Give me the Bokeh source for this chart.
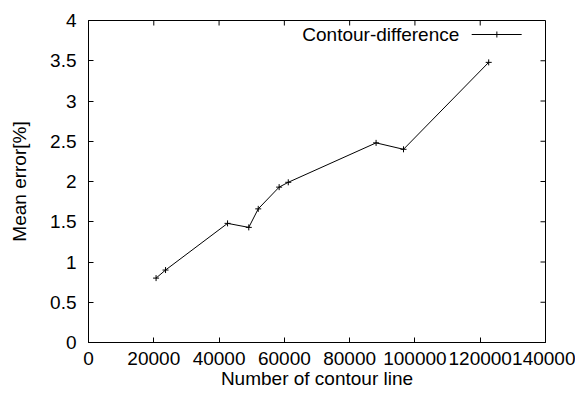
from bokeh.plotting import figure
from bokeh.models import Range1d, FixedTicker, Label
from bokeh.embed import file_html
from bokeh.resources import INLINE

# Data
contour_lines = [20700, 23600, 42600, 49100, 52000, 58400, 61200, 88100, 96500, 122600]
mean_error = [0.80, 0.90, 1.48, 1.43, 1.66, 1.93, 1.99, 2.48, 2.40, 3.48]
series_name = "Contour-difference"

x_ticks = [0, 20000, 40000, 60000, 80000, 100000, 120000, 140000]
y_ticks = [0, 0.5, 1, 1.5, 2, 2.5, 3, 3.5, 4]
y_tick_labels = ["0", "0.5", "1", "1.5", "2", "2.5", "3", "3.5", "4"]

FONT = "Liberation Sans"
FS = "19px"
X0, X1, Y0, Y1 = 0, 140000, 0, 4
FW, FH = 457, 322
TICK_PX = 5

p = figure(frame_width=FW, frame_height=FH, output_backend="svg", toolbar_location=None,
           x_range=Range1d(X0, X1), y_range=Range1d(Y0, Y1),
           min_border_left=88, min_border_right=30, min_border_top=20, min_border_bottom=20)
p.outline_line_color = "black"
p.outline_line_width = 1
p.xgrid.visible = False
p.ygrid.visible = False
p.background_fill_color = "white"
p.border_fill_color = "white"

for ax in (p.xaxis[0], p.yaxis[0]):
    ax.major_tick_in = TICK_PX
    ax.major_tick_out = 0
    ax.minor_tick_line_color = None
    ax.axis_line_color = "black"
    ax.major_tick_line_color = "black"
    ax.major_label_text_font = FONT
    ax.major_label_text_font_size = FS
    ax.major_label_text_color = "black"
    ax.axis_label_text_font = FONT
    ax.axis_label_text_font_size = FS
    ax.axis_label_text_font_style = "normal"
    ax.axis_label_text_color = "black"

p.xaxis[0].ticker = FixedTicker(ticks=x_ticks)
p.xaxis[0].major_label_overrides = {t: str(t) for t in x_ticks}
p.xaxis[0].axis_label = "Number of contour line"
p.xaxis[0].major_label_standoff = 9
p.xaxis[0].axis_label_standoff = 0

p.yaxis[0].ticker = FixedTicker(ticks=y_ticks)
p.yaxis[0].major_label_overrides = dict(zip(y_ticks, y_tick_labels))
p.yaxis[0].axis_label = "Mean error[%]"
p.yaxis[0].major_label_standoff = 12
p.yaxis[0].axis_label_standoff = 17

# mirrored inward ticks on the top and right borders (from the tick lists)
dx = (X1 - X0) * TICK_PX / FW
dy = (Y1 - Y0) * TICK_PX / FH
p.segment(x0=x_ticks, y0=[Y1] * len(x_ticks), x1=x_ticks, y1=[Y1 - dy] * len(x_ticks),
          line_color="black", line_width=1)
p.segment(x0=[X1] * len(y_ticks), y0=y_ticks, x1=[X1 - dx] * len(y_ticks), y1=y_ticks,
          line_color="black", line_width=1)

p.line(contour_lines, mean_error, line_color="black", line_width=1)
p.scatter(contour_lines, mean_error, marker="cross", size=6, line_color="black", line_width=1)

# legend (key drawn to the right of the text, gnuplot style)
leg_y = 3.826
leg_text_x = 113600
leg_line_x = [117390, 132700]
leg_mark_x = 125100
p.add_layout(Label(x=leg_text_x, y=leg_y, text=series_name, text_align="right",
                   text_baseline="middle", text_font=FONT, text_font_size=FS,
                   text_color="black"))
p.line(leg_line_x, [leg_y, leg_y], line_color="black", line_width=1)
p.scatter([leg_mark_x], [leg_y], marker="cross", size=6, line_color="black", line_width=1)

open("out.html", "w").write(file_html(p, INLINE))
